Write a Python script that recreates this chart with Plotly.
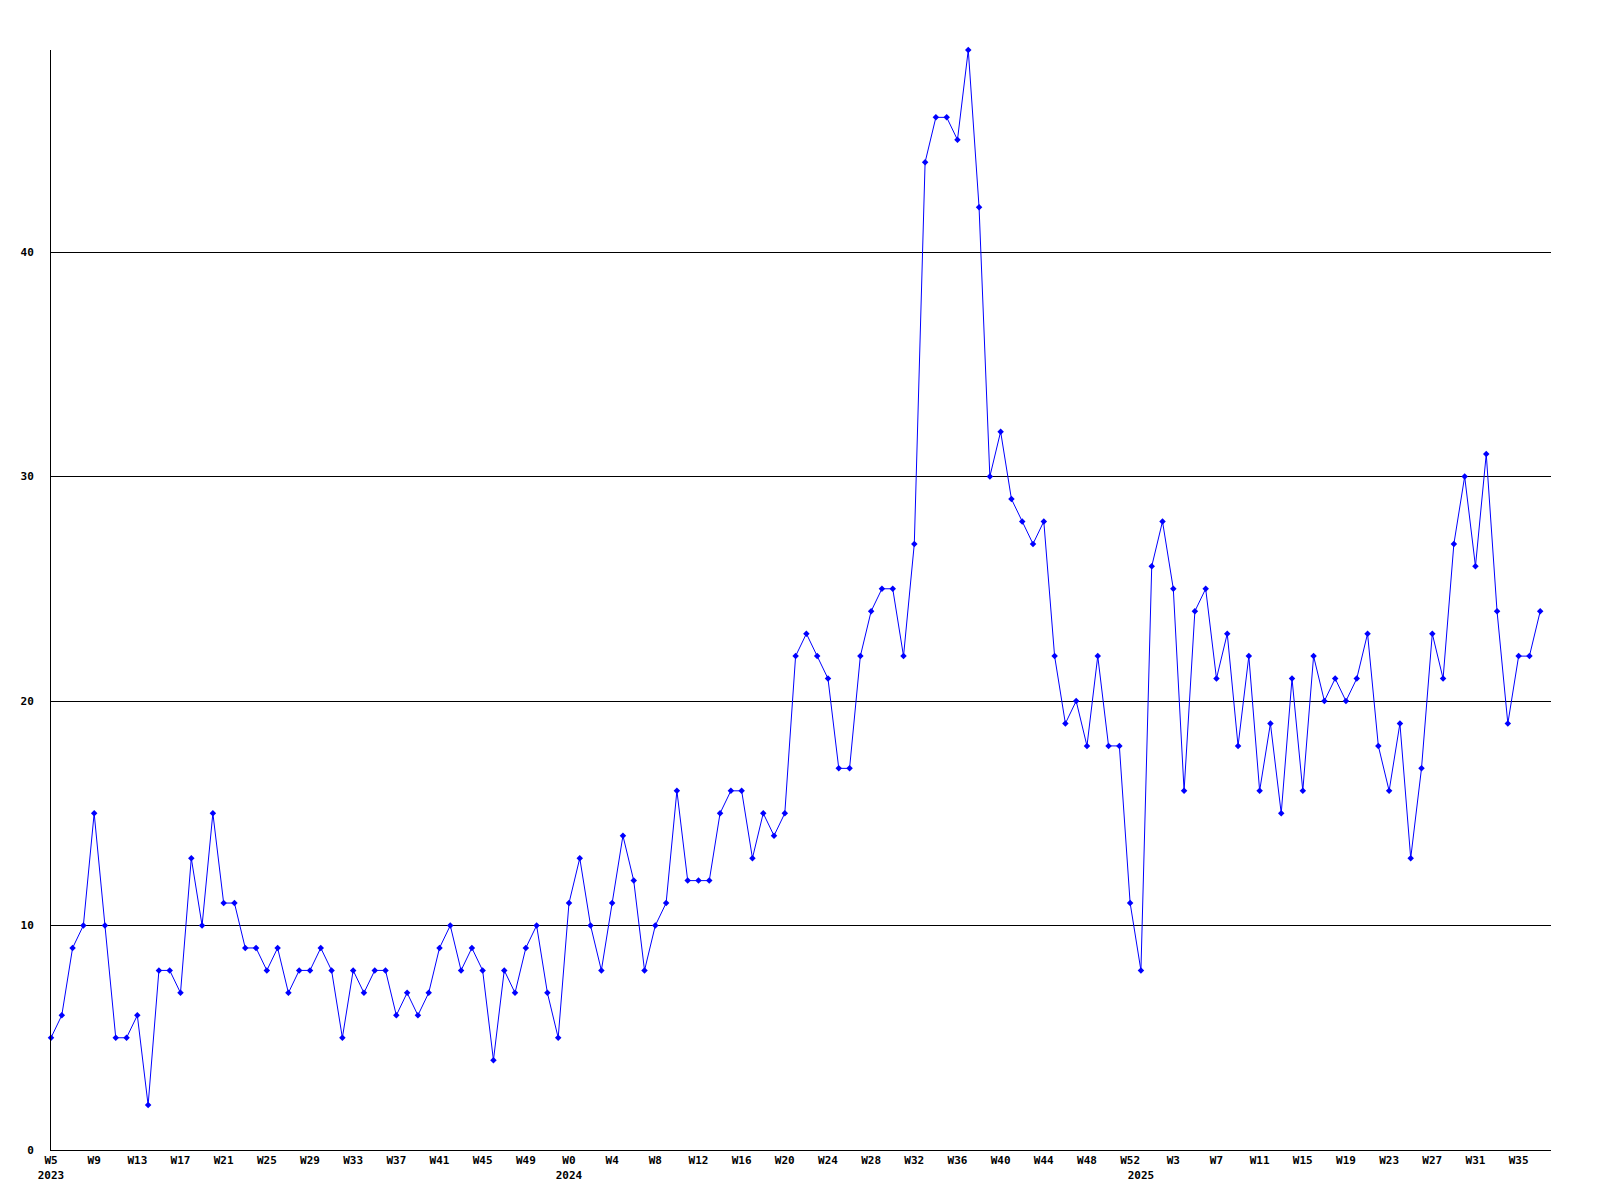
import plotly.graph_objects as go

# weekly counts
weeks_2023 = list(range(5, 53))
values_2023 = [5, 6, 9, 10, 15, 10, 5, 5, 6, 2, 8, 8, 7, 13, 10, 15, 11, 11, 9, 9,
               8, 9, 7, 8, 8, 9, 8, 5, 8, 7, 8, 8, 6, 7, 6, 7, 9, 10, 8, 9,
               8, 4, 8, 7, 9, 10, 7, 5]

weeks_2024 = list(range(0, 53))
values_2024 = [11, 13, 10, 8, 11, 14, 12, 8, 10, 11, 16, 12, 12, 12, 15, 16, 16, 13, 15, 14,
               15, 22, 23, 22, 21, 17, 17, 22, 24, 25, 25, 22, 27, 44, 46, 46, 45, 49, 42, 30,
               32, 29, 28, 27, 28, 22, 19, 20, 18, 22, 18, 18, 11]

weeks_2025 = list(range(0, 38))
values_2025 = [8, 26, 28, 25, 16, 24, 25, 21, 23, 18, 22, 16, 19, 15, 21, 16, 22, 20, 21, 20,
               21, 23, 18, 16, 19, 13, 17, 23, 21, 27, 30, 26, 31, 24, 19, 22, 22, 24]

y_ticks = [0, 10, 20, 30, 40]

periods = (
    [(2023, w) for w in weeks_2023]
    + [(2024, w) for w in weeks_2024]
    + [(2025, w) for w in weeks_2025]
)
values = values_2023 + values_2024 + values_2025
x = list(range(len(values)))

# every 4th week gets a label, first week of each year gets the year underneath
tick_vals, tick_text = [], []
seen_years = set()
for i, (year, week) in enumerate(periods):
    first_of_year = year not in seen_years
    seen_years.add(year)
    if i % 4 == 0:
        label = f"W{week}"
        if first_of_year:
            label += f"<br>{year}"
        tick_vals.append(i)
        tick_text.append(label)
    elif first_of_year:
        tick_vals.append(i)
        tick_text.append(f" <br>{year}")

fig = go.Figure()
fig.add_trace(
    go.Scatter(
        x=x,
        y=values,
        mode="lines+markers",
        line=dict(color="#0000FF", width=1),
        marker=dict(symbol="diamond", size=5, color="#0000FF"),
        cliponaxis=False,
        showlegend=False,
    )
)

tick_font = dict(family="DejaVu Sans Mono", size=11, color="black", weight="bold")

fig.update_xaxes(
    range=[0, len(values)],
    tickmode="array",
    tickvals=tick_vals,
    ticktext=tick_text,
    showgrid=False,
    zeroline=False,
    showline=True,
    linecolor="black",
    linewidth=1,
    ticks="",
    tickfont=tick_font,
    tickangle=0,
)
fig.update_yaxes(
    range=[0, max(values)],
    tickmode="array",
    tickvals=y_ticks,
    showgrid=True,
    gridcolor="black",
    gridwidth=1,
    zeroline=False,
    showline=True,
    linecolor="black",
    linewidth=1,
    ticks="",
    ticklabelstandoff=14,
    tickfont=tick_font,
)
# the page body adds an 8px margin, so the plot box is shifted back by that much
fig.update_layout(
    width=1600,
    height=1200,
    margin=dict(l=43, r=57, t=42, b=58),
    plot_bgcolor="white",
    paper_bgcolor="white",
)

fig.write_html("out.html")
